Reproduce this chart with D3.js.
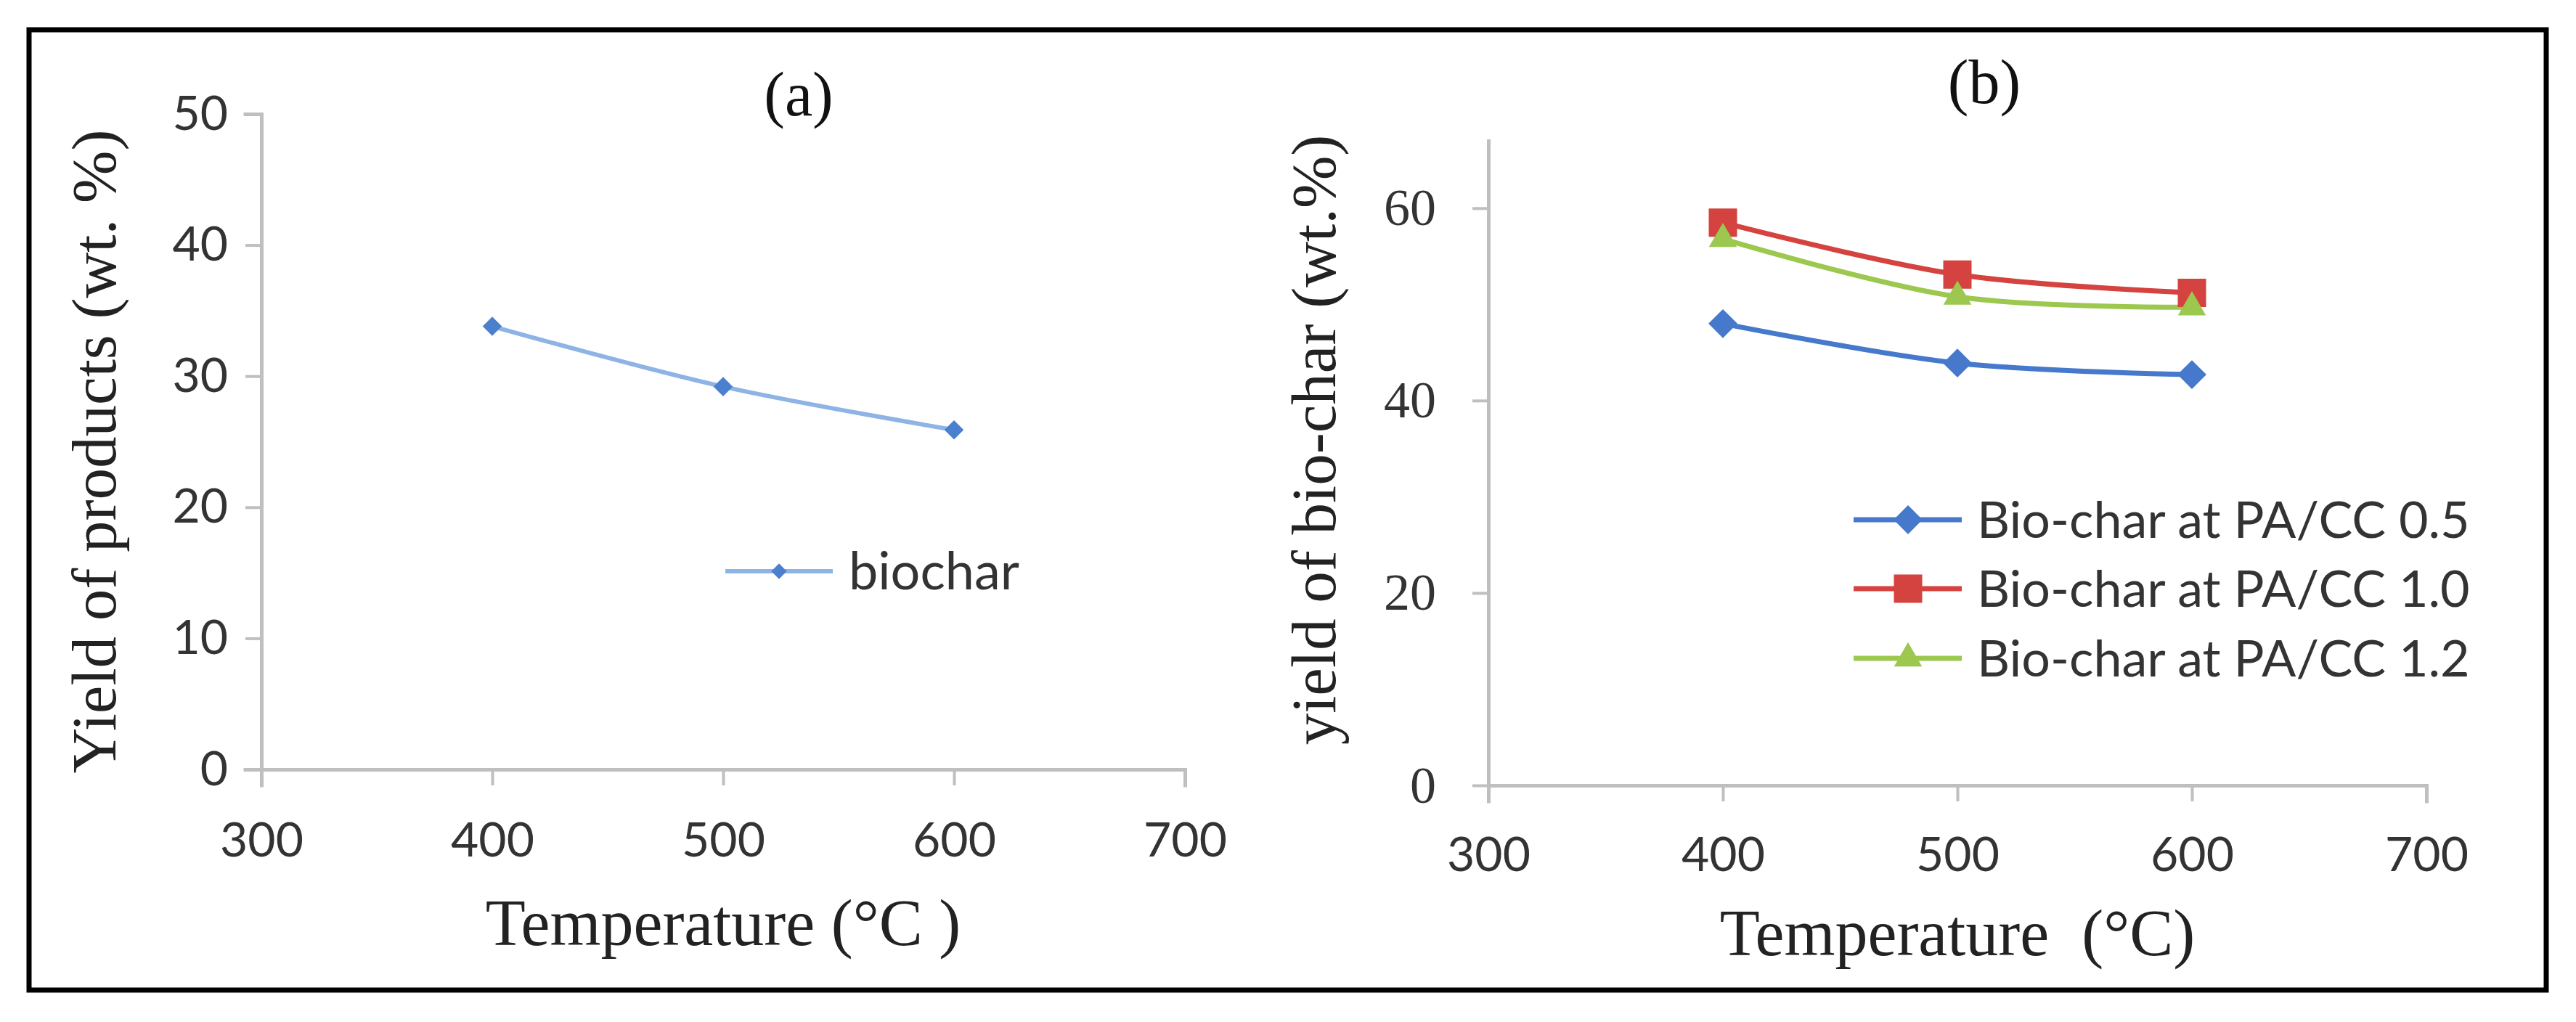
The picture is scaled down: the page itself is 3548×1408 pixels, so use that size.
<!DOCTYPE html>
<html>
<head>
<meta charset="utf-8">
<script src="https://cdn.jsdelivr.net/npm/d3@7/dist/d3.min.js"></script>
<style>
  html, body { margin: 0; padding: 0; background: #ffffff; }
  svg { display: block; }
  .serif { font-family: "Liberation Serif", "Times New Roman", serif; }
  .sans { font-family: Lato, Carlito, Calibri, "Open Sans", sans-serif; }
</style>
</head>
<body>
<svg id="chart" width="3548" height="1408"></svg>
<script>
// ---------- data ----------
const temperatures = [400, 500, 600];
const xTicks = [300, 400, 500, 600, 700];

// panel (a)
const yTicksA = [0, 10, 20, 30, 40, 50];
const biochar = [33.8, 29.2, 25.9];
const legendA = ["biochar"];

// panel (b)
const yTicksB = [0, 20, 40, 60];
const pacc05 = [48.0, 43.9, 42.7];
const pacc10 = [58.5, 53.1, 51.2];
const pacc12 = [56.8, 50.8, 49.7];
const seriesNamesB = ["Bio-char at PA/CC 0.5", "Bio-char at PA/CC 1.0", "Bio-char at PA/CC 1.2"];

const titles = ["(a)", "(b)"];
const yTitles = ["Yield of products (wt. %)", "yield of bio-char (wt.%)"];
const xTitles = ["Temperature (°C )", "Temperature  (°C)"];

// ---------- drawing ----------
const svg = d3.select("#chart");
const axisColor = "#bfbfbf";

// outer frame
svg.append("rect")
  .attr("x", 40).attr("y", 41).attr("width", 3467).attr("height", 1323)
  .attr("fill", "none").attr("stroke", "#000").attr("stroke-width", 7);

function styleAxis(g, labelClass, fontSize) {
  g.selectAll("path.domain").attr("stroke", axisColor).attr("stroke-width", 5).attr("stroke-linecap", "square");
  g.selectAll(".tick line").attr("stroke", axisColor).attr("stroke-width", 4);
  g.selectAll(".tick text")
    .attr("class", labelClass)
    .attr("font-size", fontSize)
    .attr("fill", "#333333");
}

function marker(g, type, size, x, y, color) {
  let gen;
  if (type === "diamond") gen = d3.symbol().type(d3.symbolDiamond2).size(size * size * 0.5);
  else if (type === "square") gen = d3.symbol().type(d3.symbolSquare2).size(size * size);
  else gen = d3.symbol().type(d3.symbolTriangle2).size(size * size * 0.55);
  g.append("path")
    .attr("d", gen())
    .attr("transform", `translate(${x},${y})`)
    .attr("fill", color);
}

// ===== Panel (a) =====
{
  const x = d3.scaleLinear().domain([300, 700]).range([360, 1632]);
  const y = d3.scaleLinear().domain([0, 50]).range([1060, 157]);
  const g = svg.append("g");

  const xa = g.append("g").attr("transform", `translate(0,${y(0)})`)
    .call(d3.axisBottom(x).tickValues(xTicks).tickSize(22).tickSizeOuter(22).tickPadding(44).tickFormat(d3.format("d")));
  styleAxis(xa, "sans", 66);
  xa.selectAll(".tick text").attr("dy", "0.82em");

  const ya = g.append("g").attr("transform", `translate(${x(300)},0)`)
    .call(d3.axisLeft(y).tickValues(yTicksA).tickSize(22).tickSizeOuter(22).tickPadding(24).tickFormat(d3.format("d")));
  styleAxis(ya, "sans", 66);

  const line = d3.line().x((d, i) => x(temperatures[i])).y(d => y(d)).curve(d3.curveCatmullRom.alpha(0.5));
  g.append("path").datum(biochar).attr("d", line)
    .attr("fill", "none").attr("stroke", "#8db4e4").attr("stroke-width", 6);
  biochar.forEach((v, i) => marker(g, "diamond", 30, x(temperatures[i]), y(v), "#4a80cd"));

  // legend
  const lg = g.append("g");
  lg.append("line").attr("x1", 999).attr("x2", 1147).attr("y1", 787).attr("y2", 787)
    .attr("stroke", "#8db4e4").attr("stroke-width", 6);
  marker(lg, "diamond", 24, 1073, 787, "#4a80cd");
  lg.append("text").attr("class", "sans").attr("x", 1169).attr("y", 787).attr("dy", "0.35em")
    .attr("font-size", 72).attr("fill", "#333333").text(legendA[0]);

  // titles
  g.append("text").attr("class", "serif").attr("x", 1100).attr("y", 159)
    .attr("text-anchor", "middle").attr("font-size", 86).attr("fill", "#111").text(titles[0]);
  g.append("text").attr("class", "serif").attr("transform", "translate(159,622) rotate(-90)")
    .attr("text-anchor", "middle").attr("font-size", 87).attr("fill", "#222").text(yTitles[0]);
  g.append("text").attr("class", "serif").attr("x", 996).attr("y", 1302)
    .attr("text-anchor", "middle").attr("font-size", 90).attr("fill", "#222")
    .style("white-space", "pre").text(xTitles[0]);
}

// ===== Panel (b) =====
{
  const x = d3.scaleLinear().domain([300, 700]).range([2050, 3342]);
  const y = d3.scaleLinear().domain([0, 67]).range([1082, 194]);
  const g = svg.append("g");

  const xa = g.append("g").attr("transform", `translate(0,${y(0)})`)
    .call(d3.axisBottom(x).tickValues(xTicks).tickSize(22).tickSizeOuter(22).tickPadding(40).tickFormat(d3.format("d")));
  styleAxis(xa, "sans", 66);
  xa.selectAll(".tick text").attr("dy", "0.85em");

  const ya = g.append("g").attr("transform", `translate(${x(300)},0)`)
    .call(d3.axisLeft(y).tickValues(yTicksB).tickSize(22).tickSizeOuter(0).tickPadding(50).tickFormat(d3.format("d")));
  styleAxis(ya, "serif", 72);

  const series = [
    { name: seriesNamesB[0], values: pacc05, color: "#4679cc", shape: "diamond", size: 45 },
    { name: seriesNamesB[1], values: pacc10, color: "#d4433f", shape: "square", size: 44 },
    { name: seriesNamesB[2], values: pacc12, color: "#9cc84f", shape: "triangle", size: 44 }
  ];
  const line = d3.line().x((d, i) => x(temperatures[i])).y(d => y(d)).curve(d3.curveCatmullRom.alpha(0.5));

  series.forEach(s => {
    g.append("path").datum(s.values).attr("d", line)
      .attr("fill", "none").attr("stroke", s.color).attr("stroke-width", 7);
  });
  series.forEach(s => {
    s.values.forEach((v, i) => marker(g, s.shape, s.size, x(temperatures[i]), y(v), s.color));
  });

  // legend
  const legendY = [716, 811, 907];
  series.forEach((s, i) => {
    const ly = legendY[i];
    g.append("line").attr("x1", 2553).attr("x2", 2702).attr("y1", ly).attr("y2", ly)
      .attr("stroke", s.color).attr("stroke-width", 7);
    marker(g, s.shape, s.size, 2628, ly, s.color);
    g.append("text").attr("class", "sans").attr("x", 2723).attr("y", ly).attr("dy", "0.35em")
      .attr("font-size", 70).attr("fill", "#333333").text(s.name);
  });

  // titles
  g.append("text").attr("class", "serif").attr("x", 2733).attr("y", 142)
    .attr("text-anchor", "middle").attr("font-size", 86).attr("fill", "#111").text(titles[1]);
  g.append("text").attr("class", "serif").attr("transform", "translate(1839,606) rotate(-90)")
    .attr("text-anchor", "middle").attr("font-size", 87).attr("fill", "#222").text(yTitles[1]);
  g.append("text").attr("class", "serif").attr("x", 2696).attr("y", 1316)
    .attr("text-anchor", "middle").attr("font-size", 90).attr("fill", "#222")
    .style("white-space", "pre").text(xTitles[1]);
}
</script>
</body>
</html>
